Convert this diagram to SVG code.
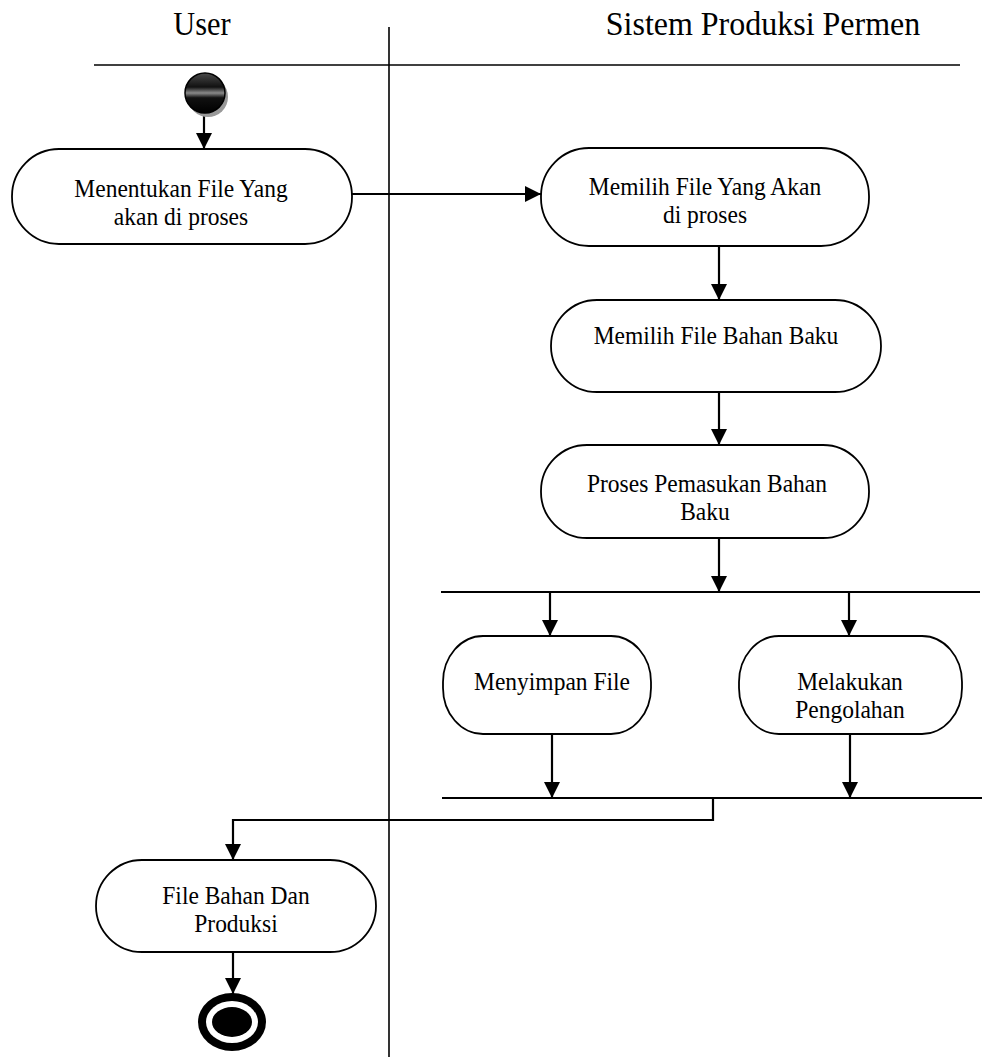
<svg xmlns="http://www.w3.org/2000/svg" width="982" height="1057" viewBox="0 0 982 1057">
<defs>
<style>
.lane{stroke:#000;stroke-width:1.6;fill:none}
.node{fill:#fff;stroke:#000;stroke-width:1.8}
.conn{stroke:#000;stroke-width:2.2;fill:none}
.bar{stroke:#000;stroke-width:1.8;fill:none}
.t{font-family:"Liberation Serif","Times New Roman",serif;font-size:23.5px;fill:#000;text-anchor:middle}
.h{font-family:"Liberation Serif","Times New Roman",serif;font-size:32px;fill:#000;text-anchor:middle}
</style>
<marker id="arr" markerUnits="userSpaceOnUse" markerWidth="18" markerHeight="18" viewBox="0 0 18 18" refX="16" refY="9" orient="auto">
<path d="M0,1 L16,9 L0,17 Z" fill="#000"/>
</marker>
<linearGradient id="startGrad" x1="0" y1="0" x2="0" y2="1">
<stop offset="0" stop-color="#4a4a4a"/>
<stop offset="0.35" stop-color="#111"/>
<stop offset="0.5" stop-color="#8a8a8a"/>
<stop offset="0.62" stop-color="#111"/>
<stop offset="1" stop-color="#000"/>
</linearGradient>
</defs>

<g id="lanes">
<text class="h" transform="translate(202,35) scale(0.95,1.08)">User</text>
<text class="h" transform="translate(763,35) scale(1,1.04)">Sistem Produksi Permen</text>
<line class="lane" x1="94" y1="65" x2="960" y2="65"/>
<line class="lane" x1="389" y1="27" x2="389" y2="1057"/>
</g>

<g id="connectors">
<line class="conn" x1="204" y1="114" x2="204" y2="149" marker-end="url(#arr)"/>
<line class="conn" x1="352" y1="194" x2="541" y2="194" marker-end="url(#arr)"/>
<line class="conn" x1="719" y1="246" x2="719" y2="300" marker-end="url(#arr)"/>
<line class="conn" x1="719" y1="392" x2="719" y2="445" marker-end="url(#arr)"/>
<line class="conn" x1="719" y1="538" x2="719" y2="592" marker-end="url(#arr)"/>
<line class="conn" x1="550" y1="592" x2="550" y2="636" marker-end="url(#arr)"/>
<line class="conn" x1="849" y1="592" x2="849" y2="636" marker-end="url(#arr)"/>
<line class="conn" x1="552" y1="734" x2="552" y2="798" marker-end="url(#arr)"/>
<line class="conn" x1="850" y1="734" x2="850" y2="798" marker-end="url(#arr)"/>
<polyline class="conn" points="713,798 713,820 233,820 233,860" marker-end="url(#arr)"/>
<line class="conn" x1="233" y1="952" x2="233" y2="994" marker-end="url(#arr)"/>
</g>

<g id="fork">
<line class="bar" x1="441" y1="592" x2="980" y2="592"/>
</g>
<g id="join">
<line class="bar" x1="442" y1="798" x2="982" y2="798"/>
</g>

<g id="start">
<circle cx="208" cy="97" r="20" fill="#999"/>
<circle cx="205" cy="93" r="20" fill="url(#startGrad)" stroke="#000" stroke-width="1.5"/>
</g>

<g id="n1">
<rect class="node" x="12" y="149" width="340" height="95" rx="47" ry="47"/>
<text class="t" transform="translate(181,197) scale(1,1.1)">Menentukan File Yang</text>
<text class="t" transform="translate(181,225) scale(1,1.1)">akan di proses</text>
</g>

<g id="n2">
<rect class="node" x="541" y="148" width="328" height="98" rx="48" ry="48"/>
<text class="t" transform="translate(705,195) scale(1,1.1)">Memilih File Yang Akan</text>
<text class="t" transform="translate(705,223) scale(1,1.1)">di proses</text>
</g>

<g id="n3">
<rect class="node" x="551" y="300" width="330" height="92" rx="46" ry="46"/>
<text class="t" transform="translate(716,344) scale(1,1.1)">Memilih File Bahan Baku</text>
</g>

<g id="n4">
<rect class="node" x="541" y="445" width="328" height="93" rx="46" ry="46"/>
<text class="t" transform="translate(707,492) scale(1,1.1)">Proses Pemasukan Bahan</text>
<text class="t" transform="translate(705,520) scale(1,1.1)">Baku</text>
</g>

<g id="n5">
<rect class="node" x="443" y="636" width="208" height="98" rx="40" ry="46"/>
<text class="t" transform="translate(552,690) scale(1,1.1)">Menyimpan File</text>
</g>

<g id="n6">
<rect class="node" x="739" y="636" width="223" height="98" rx="40" ry="46"/>
<text class="t" transform="translate(850,690) scale(1,1.1)">Melakukan</text>
<text class="t" transform="translate(850,718) scale(1,1.1)">Pengolahan</text>
</g>

<g id="n7">
<rect class="node" x="96" y="860" width="280" height="92" rx="46" ry="46"/>
<text class="t" transform="translate(236,904) scale(1,1.1)">File Bahan Dan</text>
<text class="t" transform="translate(236,932) scale(1,1.1)">Produksi</text>
</g>

<g id="end">
<ellipse cx="232" cy="1022" rx="34" ry="29" fill="#000"/>
<ellipse cx="232" cy="1022" rx="26" ry="21" fill="#fff"/>
<ellipse cx="232" cy="1022" rx="20" ry="15" fill="#000"/>
</g>
</svg>
